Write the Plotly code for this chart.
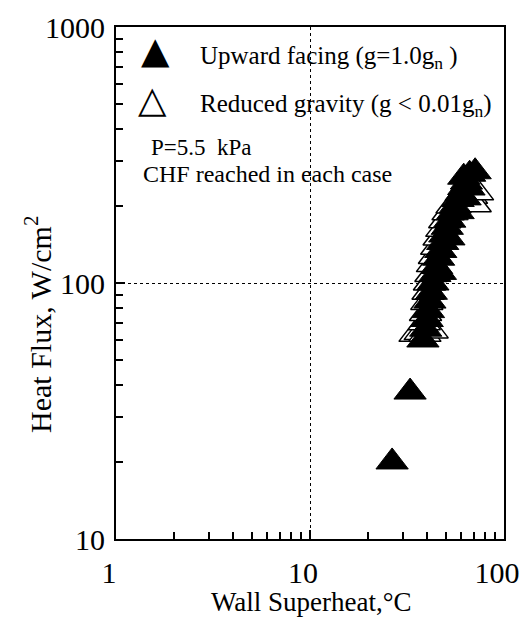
import plotly.graph_objects as go

# Upward facing (g = 1.0 g_n) - filled triangles
up_x = [26.5, 32.8, 38.2, 39.5, 40.2, 40.8, 41.5, 42.2, 43.0, 44.0, 47.0, 45.0, 46.0, 47.2, 48.3, 52.0, 49.5, 51.0, 52.5, 54.0, 58.0, 56.0, 58.0, 60.0, 63.0, 62.0, 66.0, 64.0, 62.0, 66.5, 71.0]
up_y = [20.0, 37.5, 59.9, 66, 72, 78, 85, 92, 100, 108, 110, 116, 125, 134, 144, 150, 154, 165, 176, 188, 190, 200, 212, 224, 215, 236, 235, 248, 259, 266, 272]

# Reduced gravity (g < 0.01 g_n) - open triangles
rg_x = [34.8, 37.0, 39.1, 42.6, 38.8, 39.4, 40.0, 40.6, 41.3, 42.0, 42.8, 43.8, 45.0, 46.3, 47.8, 49.5, 51.5, 54.0, 62.0, 68.0, 71.0, 73.0]
rg_y = [63, 64, 63, 65, 70, 76, 84, 92, 100, 108, 118, 127, 138, 150, 162, 175, 188, 200, 210, 218, 202, 225]

legend_labels = ["Upward facing (g=1.0g<sub>n</sub> )", "Reduced gravity (g < 0.01g<sub>n</sub>)"]
note_lines = ["P=5.5  kPa", "CHF reached in each case"]
x_title = "Wall Superheat,\u00b0C"
y_title = "Heat Flux, W/cm<sup>2</sup>"
x_ticks = [1, 10, 100]
x_ticklabels = ["1", "10", "100"]
y_ticks = [10, 100, 1000]
y_ticklabels = ["10", "100", "1000"]

FONT = "Liberation Serif"
INK = "black"

fig = go.Figure()
fig.add_trace(go.Scatter(
    x=rg_x, y=rg_y, mode="markers", name=legend_labels[1], showlegend=False,
    marker=dict(symbol="triangle-up", size=28, color="white", line=dict(color=INK, width=1.5)),
))
fig.add_trace(go.Scatter(
    x=up_x, y=up_y, mode="markers", name=legend_labels[0], showlegend=False,
    marker=dict(symbol="triangle-up", size=28, color=INK, line=dict(color=INK, width=1)),
))

ann = []
# manual legend
ann.append(dict(x=0.102, y=0.955, xref="paper", yref="paper", text="\u25b2", showarrow=False,
                xanchor="center", yanchor="middle", font=dict(size=37, family="DejaVu Sans", color=INK)))
ann.append(dict(x=0.094, y=0.859, xref="paper", yref="paper", text="\u25b3", showarrow=False,
                xanchor="center", yanchor="middle", font=dict(size=37, family="DejaVu Sans", color=INK)))
ann.append(dict(x=0.212, y=0.941, xref="paper", yref="paper", text=legend_labels[0], showarrow=False,
                xanchor="left", yanchor="middle", font=dict(size=25, family=FONT, color=INK)))
ann.append(dict(x=0.212, y=0.846, xref="paper", yref="paper", text=legend_labels[1], showarrow=False,
                xanchor="left", yanchor="middle", font=dict(size=25, family=FONT, color=INK)))
ann.append(dict(x=0.088, y=0.764, xref="paper", yref="paper", text=note_lines[0], showarrow=False,
                borderpad=0, xanchor="left", yanchor="middle", font=dict(size=23, family=FONT, color=INK)))
ann.append(dict(x=0.068, y=0.713, xref="paper", yref="paper", text=note_lines[1], showarrow=False,
                borderpad=0, xanchor="left", yanchor="middle", font=dict(size=24, family=FONT, color=INK)))
# axis titles
ann.append(dict(x=0.505, y=-0.154, xref="paper", yref="paper", text=x_title, showarrow=False,
                borderpad=0, xanchor="center", yanchor="bottom", font=dict(size=27, family=FONT, color=INK)))
ann.append(dict(x=-0.201, y=0.418, xref="paper", yref="paper", text=y_title, showarrow=False,
                textangle=-90, xanchor="center", yanchor="middle", font=dict(size=30, family=FONT, color=INK)))

fig.update_layout(
    width=532, height=618,
    paper_bgcolor="white", plot_bgcolor="white",
    margin=dict(l=108, r=36, t=19, b=87, autoexpand=False),
    font=dict(family=FONT, color=INK, size=19),
    showlegend=False,
    annotations=ann,
)
fig.update_xaxes(
    type="log", range=[0, 2], tickvals=x_ticks, ticktext=x_ticklabels,
    ticks="inside", ticklen=9, tickcolor=INK, tickwidth=1.5,
    showline=True, linecolor=INK, linewidth=2,
    mirror=True, showgrid=True, gridcolor=INK, griddash="dot", gridwidth=1,
    minor=dict(ticks="inside", ticklen=7, tickcolor=INK, tickwidth=1.5, showgrid=False, dtick="D1"),
    tickfont=dict(size=30, family=FONT, color=INK), zeroline=False, automargin=False,
    ticklabelstandoff=6, ticklabelshift=-7,
)
fig.update_yaxes(
    type="log", range=[1, 3], tickvals=y_ticks, ticktext=y_ticklabels,
    ticks="inside", ticklen=9, tickcolor=INK, tickwidth=1.5,
    showline=True, linecolor=INK, linewidth=2,
    mirror=True, showgrid=True, gridcolor=INK, griddash="dot", gridwidth=1,
    minor=dict(ticks="inside", ticklen=7, tickcolor=INK, tickwidth=1.5, showgrid=False, dtick="D1"),
    tickfont=dict(size=30, family=FONT, color=INK), zeroline=False, automargin=False,
    ticklabelstandoff=3,
)

fig.write_html("out.html")
